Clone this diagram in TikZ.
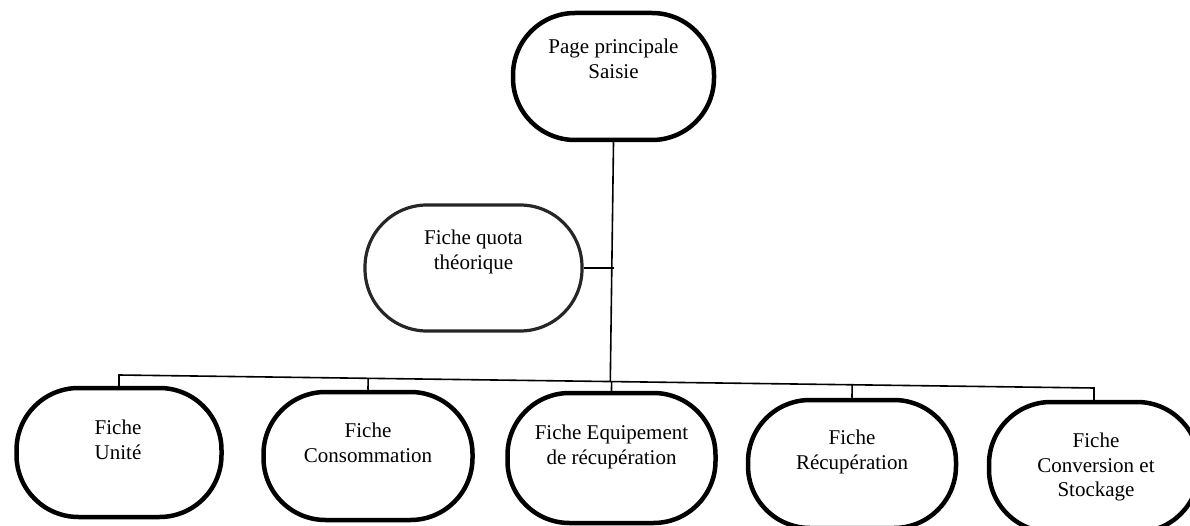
\documentclass[tikz,border=0pt]{standalone}
\usepackage{fontspec}
\setmainfont{Liberation Serif}
\usetikzlibrary{calc}
\begin{document}
\begin{tikzpicture}[x=1pt,y=-1pt,
  box/.style={draw, line width=4.5pt, rounded corners=62pt, inner sep=0pt},
  softbox/.style={draw=black!85, line width=3.2pt, rounded corners=62pt, inner sep=0pt},
  txt/.style={align=center, inner sep=0pt, anchor=north, font=\fontsize{21}{24.5}\selectfont},
  conn/.style={draw, line width=1.6pt}]
\useasboundingbox (0,0) rectangle (1190,526);

% shapes
\node[box, minimum width=201pt, minimum height=127pt] (top) at (613.5,76.5) {};
\node[softbox, minimum width=217pt, minimum height=126pt] (mid) at (473.5,268) {};
\node[box, minimum width=205pt, minimum height=129pt] (n1) at (119,452.5) {};
\node[box, minimum width=209pt, minimum height=128pt] (n2) at (368,456) {};
\node[box, minimum width=208pt, minimum height=130pt] (n3) at (611.5,458) {};
\node[box, minimum width=208pt, minimum height=128pt] (n4) at (852,464) {};
\node[box, minimum width=210pt, minimum height=130pt] (n5) at (1094,467) {};

% texts
\node[txt] (t0) at (613.5,39) {Page principale\\Saisie};
\node[txt] (tm) at (473.5,230) {Fiche quota\\théorique};
\node[txt] (t1) at (118,420) {Fiche\\Unité};
\node[txt] (t2) at (368,423) {Fiche\\Consommation};
\node[txt] (t3) at (611.5,425) {Fiche Equipement\\de récupération};
\node[txt] (t4) at (852,430) {Fiche\\Récupération};
\node[txt] (t5) at (1096,433) {Fiche\\Conversion et\\Stockage};

% connectors
\coordinate (busL) at (119,375);
\coordinate (busR) at (1094,388);
\path[conn] (n1.north) -- (busL) -- (busR) -- (n5.north);
\path[conn] (n2.north) -- ($(busL)!(n2.north)!(busR)$);
\path[conn] (n4.north) -- ($(busL)!(n4.north)!(busR)$);
\path[conn] (top.south) -- ($(busL)!(top.south)!(busR)$);
\path[conn] (n3.north) -- ($(busL)!(n3.north)!(busR)$);
\path[conn] (mid.east) -- (mid.east -| top.south);
\end{tikzpicture}
\end{document}
